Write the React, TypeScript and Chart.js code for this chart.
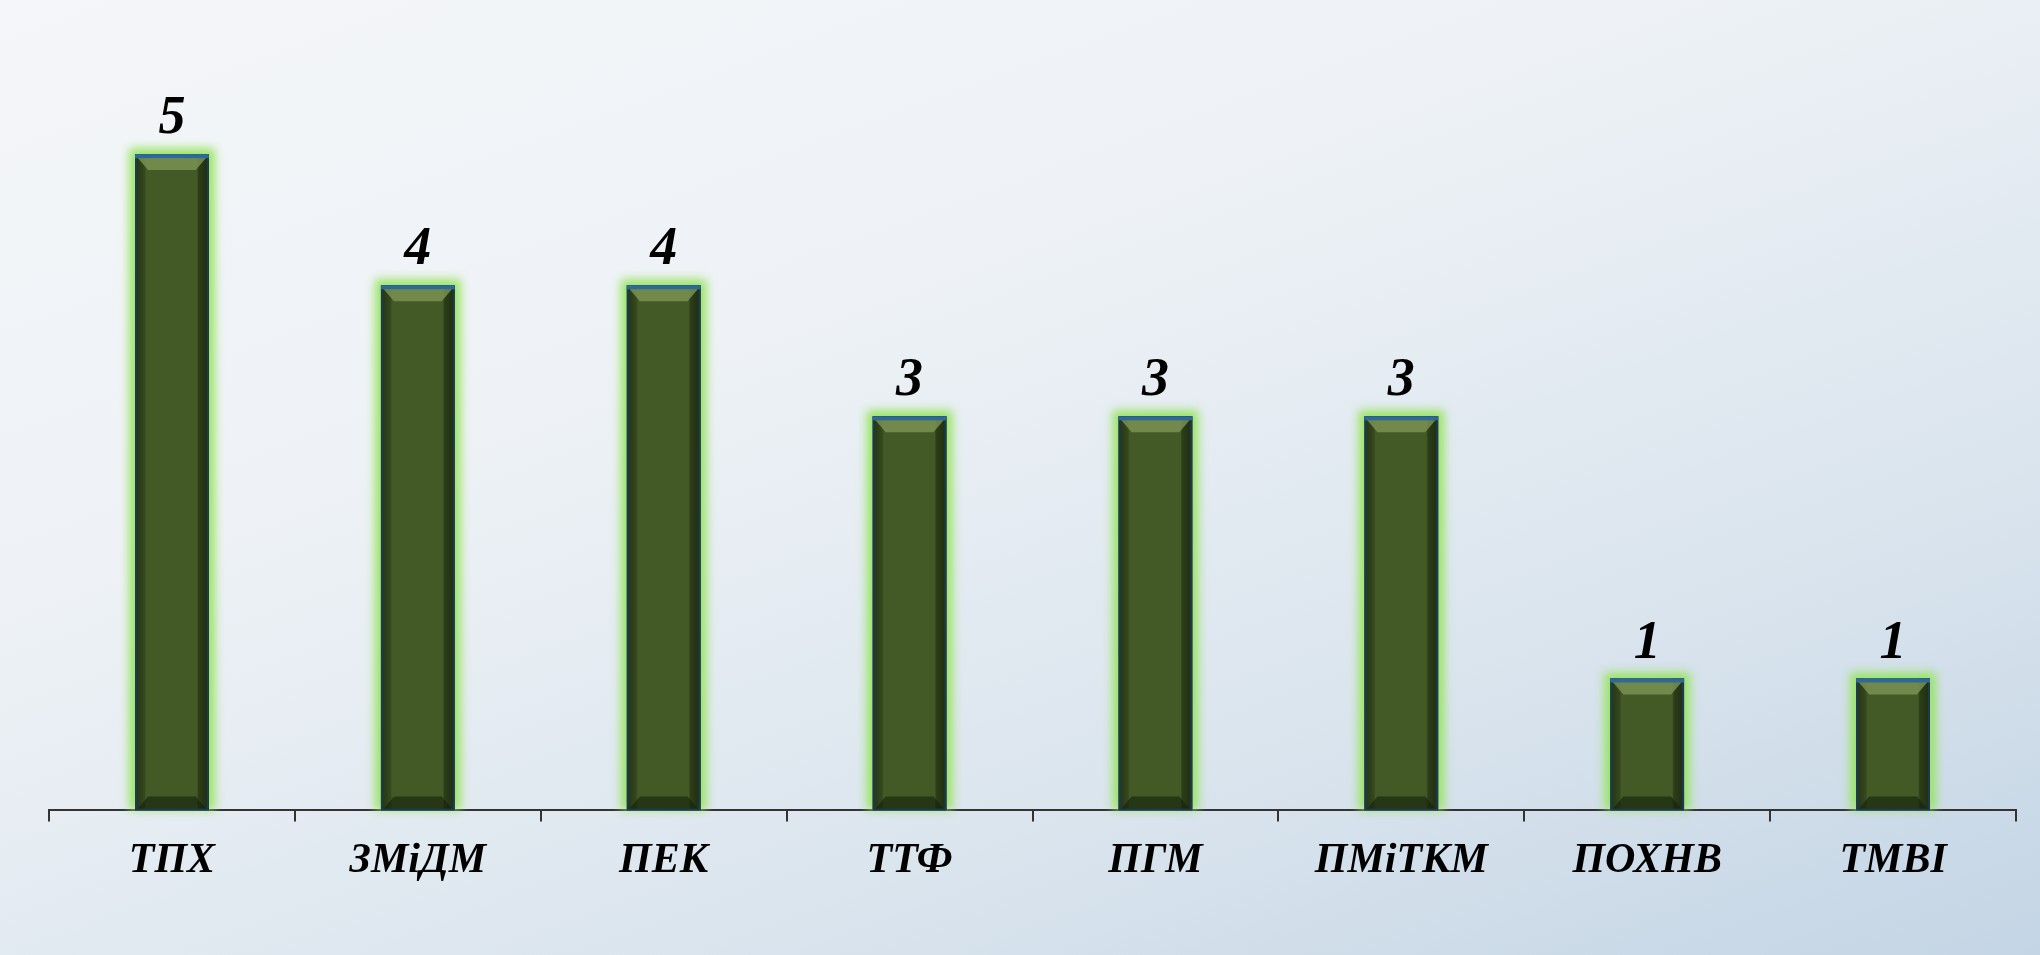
import React, { useEffect, useRef } from "react";
import { Chart, registerables } from "chart.js";

Chart.register(...registerables);

const categories = ["ТПХ", "ЗМіДМ", "ПЕК", "ТТФ", "ПГМ", "ПМіТКМ", "ПОХНВ", "ТМВІ"];
const values = [5, 4, 4, 3, 3, 3, 1, 1];

const FONT = "'Liberation Serif', 'Times New Roman', serif";

function barBox(bar: any) {
  const { x, y, base, width } = bar.getProps(["x", "y", "base", "width"], true);
  return { l: x - width / 2, r: x + width / 2, x, y, base, width };
}

const barDecor = {
  id: "barDecor",
  beforeDatasetDraw(chart: any) {
    const ctx = chart.ctx;
    const meta = chart.getDatasetMeta(0);
    meta.data.forEach((bar: any) => {
      const { l, y, base, width } = barBox(bar);
      ctx.save();
      ctx.filter = "blur(5px)";
      ctx.fillStyle = "rgba(150, 228, 95, 0.95)";
      ctx.fillRect(l - 6, y - 6, width + 12, base - y + 6);
      ctx.restore();
    });
  },
  afterDatasetDraw(chart: any) {
    const ctx = chart.ctx;
    const meta = chart.getDatasetMeta(0);
    meta.data.forEach((bar: any, i: number) => {
      const { l, r, x, y, base, width } = barBox(bar);
      const bev = 13;
      ctx.save();
      const g = ctx.createLinearGradient(l, 0, r, 0);
      g.addColorStop(0, "rgba(10, 20, 5, 0.55)");
      g.addColorStop(0.13, "rgba(10, 20, 5, 0.25)");
      g.addColorStop(0.15, "rgba(10, 20, 5, 0)");
      g.addColorStop(0.84, "rgba(10, 20, 5, 0)");
      g.addColorStop(0.86, "rgba(10, 20, 5, 0.4)");
      g.addColorStop(1, "rgba(10, 20, 5, 0.65)");
      ctx.fillStyle = g;
      ctx.fillRect(l, y, width, base - y);
      ctx.beginPath();
      ctx.moveTo(l + 2, y + 3);
      ctx.lineTo(r - 2, y + 3);
      ctx.lineTo(r - bev, y + bev + 3);
      ctx.lineTo(l + bev, y + bev + 3);
      ctx.closePath();
      ctx.fillStyle = "rgba(125, 150, 85, 0.8)";
      ctx.fill();
      ctx.beginPath();
      ctx.moveTo(l + 2, base);
      ctx.lineTo(r - 2, base);
      ctx.lineTo(r - bev, base - bev);
      ctx.lineTo(l + bev, base - bev);
      ctx.closePath();
      ctx.fillStyle = "rgba(20, 32, 10, 0.6)";
      ctx.fill();
      ctx.strokeStyle = "#1c3a55";
      ctx.lineWidth = 2;
      ctx.strokeRect(l + 1, y + 1, width - 2, base - y - 1);
      ctx.fillStyle = "#2d6a9a";
      ctx.fillRect(l, y, width, 4);
      ctx.restore();
      ctx.save();
      ctx.fillStyle = "#000";
      ctx.font = `bold italic 54px ${FONT}`;
      ctx.textAlign = "center";
      ctx.textBaseline = "alphabetic";
      ctx.fillText(String(values[i]), x, y - 21);
      ctx.restore();
    });
  },
};

export default function App() {
  const ref = useRef<HTMLCanvasElement | null>(null);

  useEffect(() => {
    if (!ref.current) return;
    const chart = new Chart(ref.current, {
      type: "bar",
      data: {
        labels: categories,
        datasets: [
          {
            data: values,
            backgroundColor: "#435a26",
            borderWidth: 0,
            barPercentage: 0.3,
            categoryPercentage: 1,
          },
        ],
      },
      options: {
        animation: false,
        responsive: false,
        maintainAspectRatio: false,
        layout: { padding: { left: 49, right: 24, top: 23, bottom: 55 } },
        plugins: {
          legend: { display: false },
          tooltip: { enabled: false },
        },
        scales: {
          x: {
            offset: true,
            grid: {
              display: true,
              offset: true,
              drawOnChartArea: false,
              drawTicks: true,
              tickLength: 12,
              color: "#333",
              lineWidth: 2,
            },
            border: { display: true, color: "#333", width: 2 },
            ticks: {
              color: "#000",
              padding: 14,
              font: { family: FONT, size: 42, style: "italic", weight: "bold" },
            },
          },
          y: {
            display: false,
            min: 0,
            max: 6,
          },
        },
      },
      plugins: [barDecor],
    });
    return () => chart.destroy();
  }, []);

  return (
    <div
      style={{
        position: "fixed",
        left: 0,
        top: 0,
        width: 2040,
        height: 955,
        background:
          "linear-gradient(160deg, #f4f6f9 0%, #eef2f6 35%, #dbe5ee 70%, #c4d5e5 100%)",
      }}
    >
      <canvas ref={ref} width={2040} height={955} style={{ display: "block" }} />
    </div>
  );
}
